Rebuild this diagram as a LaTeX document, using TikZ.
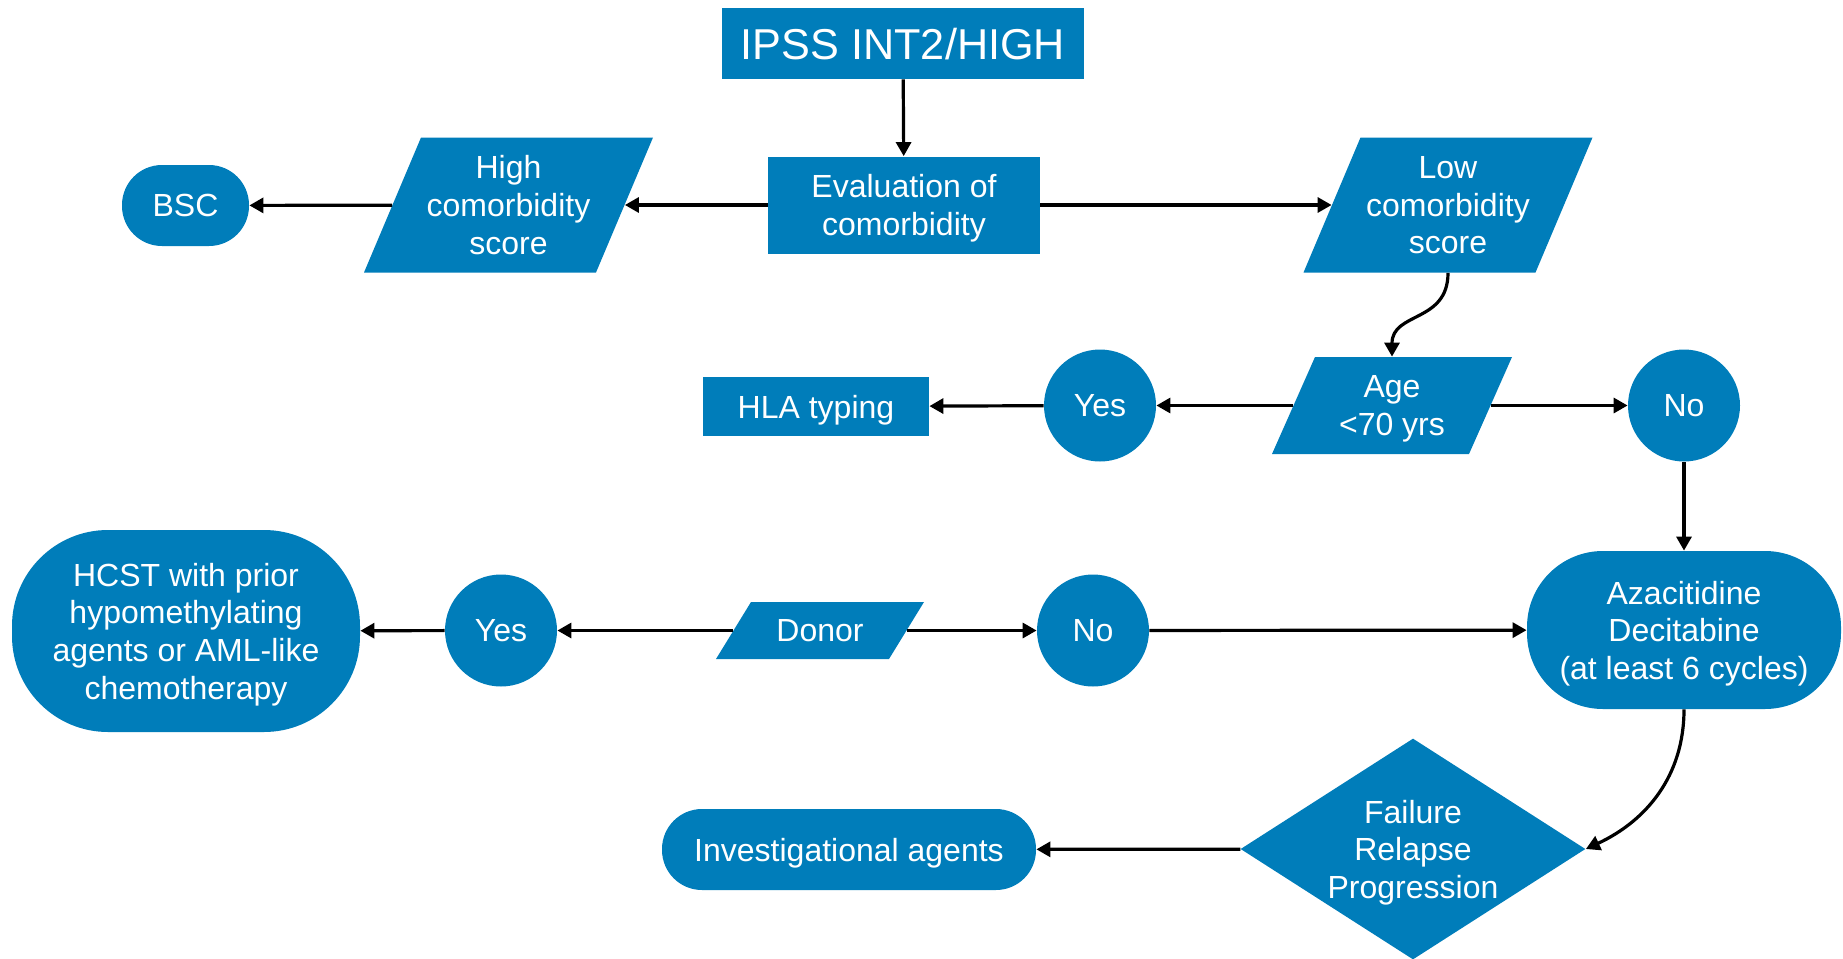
\documentclass[tikz,border=0pt]{standalone}
\usepackage{fontspec}
\setmainfont{Liberation Sans}
\usetikzlibrary{shapes.geometric,shapes.misc,arrows.meta,backgrounds}
\definecolor{mdsblue}{RGB}{0,125,186}
% #1 node name, #2 half total width, #3 half height, #4 half width minus slant offset (all in px units)
\newcommand\parafill[4]{%
  \fill[mdsblue] ([shift={(-#2,#3)}]#1.center) -- ([shift={(-#4,-#3)}]#1.center)
    -- ([shift={(#2,-#3)}]#1.center) -- ([shift={(#4,#3)}]#1.center) -- cycle;}
\begin{document}
\begin{tikzpicture}[x=0.5pt,y=-0.5pt,
  txt/.style={text=white,font=\fontsize{16}{18.8}\selectfont,align=center,inner sep=0pt,text depth=0pt},
  box/.style={txt,fill=mdsblue},
  rectbox/.style={box,rectangle},
  roundbox/.style={box,rectangle,rounded corners=#1},
  paratext/.style={txt,rectangle},
  circbox/.style={box,circle,minimum size=56pt},
  conn/.style={line width=1.6pt,-{Triangle[length=7pt,width=7.5pt]}}]
\useasboundingbox (0,0) rectangle (1843,959);

\node[rectbox,minimum width=181pt,minimum height=35.5pt,font=\fontsize{21.6}{26}\selectfont] (ipss) at (903,43.5) {IPSS INT2/HIGH};
\node[rectbox,minimum width=136pt,minimum height=48.5pt] (eval) at (904,205) {Evaluation of\\comorbidity};
\node[paratext,minimum width=116pt,minimum height=67.5pt] (high) at (508.5,205) {High\\comorbidity\\score};
\node[roundbox=20pt,minimum width=63.5pt,minimum height=40.5pt] (bsc) at (185.5,205.5) {BSC};
\node[paratext,minimum width=116pt,minimum height=67.5pt] (low) at (1448,205) {Low\\comorbidity\\score};
\node[paratext,minimum width=98.5pt,minimum height=48.5pt] (age) at (1392,405.5) {Age\\{<}70 yrs};
\node[circbox] (yes1) at (1100,405.5) {Yes};
\node[circbox] (no1) at (1684,405.5) {No};
\node[rectbox,minimum width=113pt,minimum height=29.5pt] (hla) at (816,406.5) {HLA typing};
\node[roundbox=38pt,minimum width=157pt,minimum height=79pt] (aza) at (1684,630) {Azacitidine\\Decitabine\\(at least 6 cycles)};
\node[circbox] (no2) at (1093,630.5) {No};
\node[paratext,minimum width=86.5pt,minimum height=28.5pt] (donor) at (820,630.5) {Donor};
\node[circbox] (yes2) at (501,630.5) {Yes};
\node[roundbox=48pt,minimum width=174pt,minimum height=101pt] (hcst) at (186,631) {HCST with prior\\hypomethylating\\agents or AML-like\\chemotherapy};
\node[box,diamond,aspect=1.56,minimum width=172.5pt,minimum height=110.5pt] (fail) at (1413,849) {Failure\\Relapse\\Progression};
\node[roundbox=20pt,minimum width=187pt,minimum height=40.5pt] (inv) at (849,849.5) {Investigational agents};

\begin{scope}[on background layer]
  \parafill{high}{144.5}{67.5}{87.5}
  \parafill{low}{144.5}{67.5}{87.5}
  \parafill{age}{120}{48.5}{77}
  \parafill{donor}{104}{28.5}{69}
\end{scope}

\draw[conn] (ipss) -- (eval);
\draw[conn] (eval) -- (high);
\draw[conn] (high) -- (bsc);
\draw[conn] (eval) -- (low);
\draw[conn] (low.south) .. controls +(0,50) and +(0,-45) .. (age.north);
\draw[conn] (age) -- (yes1);
\draw[conn] (yes1) -- (hla);
\draw[conn] (age) -- (no1);
\draw[conn] (no1) -- (aza);
\draw[conn] (donor) -- (yes2);
\draw[conn] (yes2) -- (hcst);
\draw[conn] (donor) -- (no2);
\draw[conn] (no2) -- (aza);
\draw[conn] (aza.south) to[out=-90,in=25] (fail.east);
\draw[conn] (fail) -- (inv);
\end{tikzpicture}
\end{document}
